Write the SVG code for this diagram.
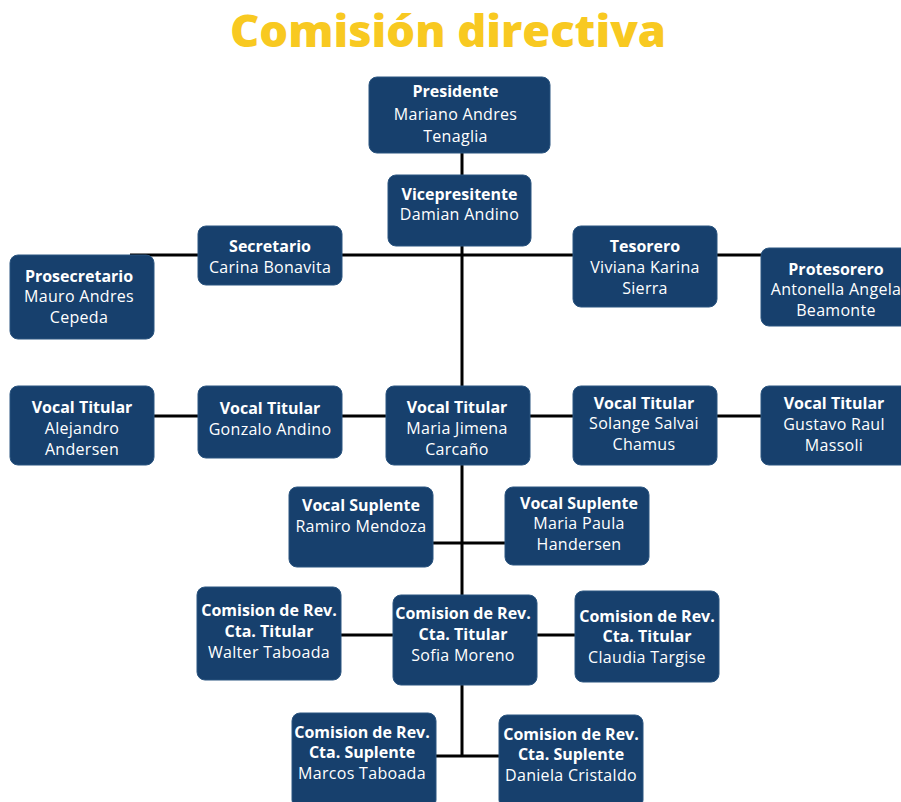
<svg xmlns="http://www.w3.org/2000/svg" width="901" height="802" viewBox="0 0 901 802">
<style>
.bg{fill:#ffffff}
.title{font-family:"Open Sans","Liberation Sans",sans-serif;font-weight:800;font-size:45px;fill:#F8C921;text-anchor:middle}
.box{fill:#17406D;stroke:#2B5580;stroke-width:1}
.b{font-family:"Open Sans","Liberation Sans",sans-serif;font-weight:700;font-size:16px;fill:#ffffff;text-anchor:middle}
.r{font-family:"Open Sans","Liberation Sans",sans-serif;font-weight:400;font-size:16px;letter-spacing:0.3px;fill:#ffffff;text-anchor:middle}
.ln{stroke:#000000;stroke-width:3;fill:none}
</style>
<rect class="bg" x="0" y="0" width="901" height="802"/>
<text class="title" x="448" y="47" textLength="436" lengthAdjust="spacingAndGlyphs">Comisión directiva</text>
<g id="connectors">
<line class="ln" x1="462" y1="150" x2="462" y2="757"/>
<line class="ln" x1="130" y1="255" x2="763" y2="255"/>
<line class="ln" x1="152" y1="416" x2="763" y2="416"/>
<line class="ln" x1="431" y1="543" x2="507" y2="543"/>
<line class="ln" x1="339" y1="635" x2="577" y2="635"/>
<line class="ln" x1="434" y1="756" x2="501" y2="756"/>
</g>
<g id="presidente"><rect class="box" x="369" y="77" width="181" height="76" rx="8"/>
<text class="b" x="455.5" y="97">Presidente</text><text class="r" x="455.5" y="120">Mariano Andres</text><text class="r" x="455.5" y="142">Tenaglia</text></g>
<g id="vicepresidente"><rect class="box" x="388" y="175" width="143" height="71" rx="8"/>
<text class="b" x="459.5" y="200">Vicepresitente</text><text class="r" x="459.5" y="220">Damian Andino</text></g>
<g id="secretario"><rect class="box" x="198" y="226" width="144" height="59" rx="8"/>
<text class="b" x="270" y="252">Secretario</text><text class="r" x="270" y="273">Carina Bonavita</text></g>
<g id="prosecretario"><rect class="box" x="10" y="255" width="144" height="84" rx="8"/>
<text class="b" x="79" y="282">Prosecretario</text><text class="r" x="79" y="302">Mauro Andres</text><text class="r" x="79" y="323">Cepeda</text></g>
<g id="tesorero"><rect class="box" x="573" y="226" width="144" height="81" rx="8"/>
<text class="b" x="645" y="252">Tesorero</text><text class="r" x="645" y="273">Viviana Karina</text><text class="r" x="645" y="294">Sierra</text></g>
<g id="protesorero"><rect class="box" x="761" y="248" width="150" height="78" rx="8"/>
<text class="b" x="836" y="275">Protesorero</text><text class="r" x="836" y="295">Antonella Angela</text><text class="r" x="836" y="316">Beamonte</text></g>
<g id="vocal-alejandro"><rect class="box" x="10" y="386" width="144" height="79" rx="8"/>
<text class="b" x="82" y="413">Vocal Titular</text><text class="r" x="82" y="434">Alejandro</text><text class="r" x="82" y="455">Andersen</text></g>
<g id="vocal-gonzalo"><rect class="box" x="198" y="386" width="144" height="72" rx="8"/>
<text class="b" x="270" y="414">Vocal Titular</text><text class="r" x="270" y="435">Gonzalo Andino</text></g>
<g id="vocal-maria"><rect class="box" x="386" y="386" width="144" height="79" rx="8"/>
<text class="b" x="457" y="413">Vocal Titular</text><text class="r" x="457" y="434">Maria Jimena</text><text class="r" x="457" y="455">Carcaño</text></g>
<g id="vocal-solange"><rect class="box" x="573" y="386" width="144" height="79" rx="8"/>
<text class="b" x="644" y="409">Vocal Titular</text><text class="r" x="644" y="429">Solange Salvai</text><text class="r" x="644" y="450">Chamus</text></g>
<g id="vocal-gustavo"><rect class="box" x="761" y="386" width="150" height="79" rx="8"/>
<text class="b" x="834" y="409">Vocal Titular</text><text class="r" x="834" y="430">Gustavo Raul</text><text class="r" x="834" y="451">Massoli</text></g>
<g id="suplente-ramiro"><rect class="box" x="289" y="487" width="144" height="80" rx="8"/>
<text class="b" x="361" y="511">Vocal Suplente</text><text class="r" x="361" y="532">Ramiro Mendoza</text></g>
<g id="suplente-maria"><rect class="box" x="505" y="487" width="144" height="78" rx="8"/>
<text class="b" x="579" y="509">Vocal Suplente</text><text class="r" x="579" y="529">Maria Paula</text><text class="r" x="579" y="550">Handersen</text></g>
<g id="rev-walter"><rect class="box" x="197" y="587" width="144" height="93" rx="8"/>
<text class="b" x="269" y="616">Comision de Rev.</text><text class="b" x="269" y="637">Cta. Titular</text><text class="r" x="269" y="658">Walter Taboada</text></g>
<g id="rev-sofia"><rect class="box" x="393" y="595" width="144" height="90" rx="8"/>
<text class="b" x="463" y="619">Comision de Rev.</text><text class="b" x="463" y="640">Cta. Titular</text><text class="r" x="463" y="661">Sofia Moreno</text></g>
<g id="rev-claudia"><rect class="box" x="575" y="591" width="144" height="91" rx="8"/>
<text class="b" x="647" y="622">Comision de Rev.</text><text class="b" x="647" y="642">Cta. Titular</text><text class="r" x="647" y="663">Claudia Targise</text></g>
<g id="rev-marcos"><rect class="box" x="292" y="713" width="144" height="95" rx="8"/>
<text class="b" x="362" y="738">Comision de Rev.</text><text class="b" x="362" y="758">Cta. Suplente</text><text class="r" x="362" y="779">Marcos Taboada</text></g>
<g id="rev-daniela"><rect class="box" x="499" y="715" width="144" height="93" rx="8"/>
<text class="b" x="571" y="740">Comision de Rev.</text><text class="b" x="571" y="760">Cta. Suplente</text><text class="r" x="571" y="781">Daniela Cristaldo</text></g>
</svg>
